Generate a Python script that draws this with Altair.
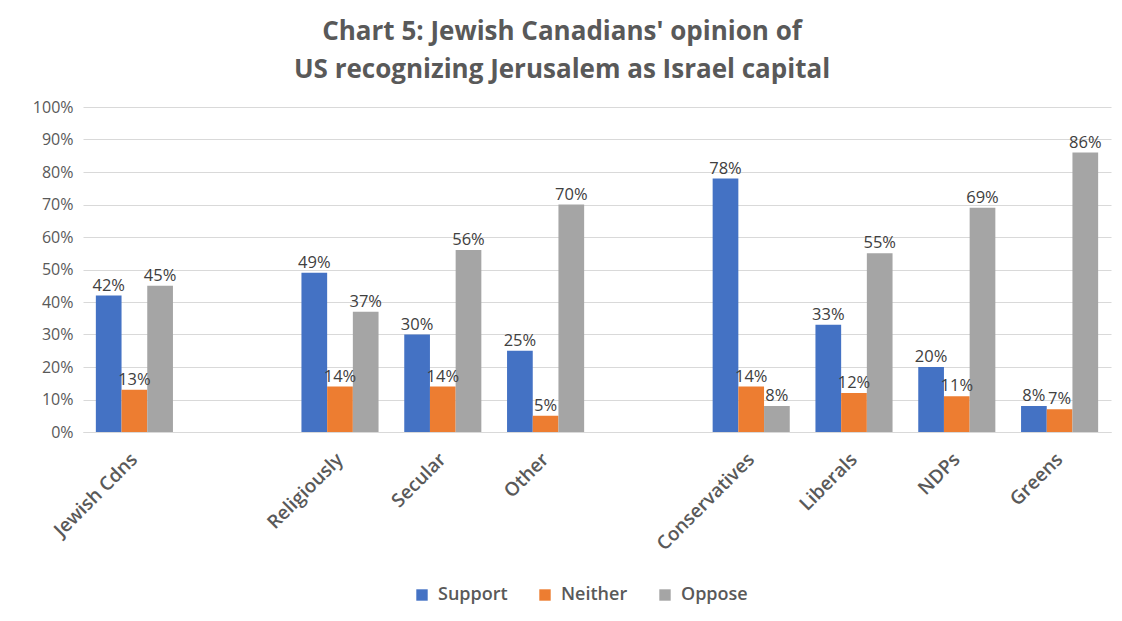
import altair as alt
import pandas as pd

categories = ["Jewish Cdns", " ", "Religiously", "Secular", "Other", "  ",
              "Conservatives", "Liberals", "NDPs", "Greens"]
groups = ["Jewish Cdns", "Religiously", "Secular", "Other",
          "Conservatives", "Liberals", "NDPs", "Greens"]
series = ["Support", "Neither", "Oppose"]
support = [42, 49, 30, 25, 78, 33, 20, 8]
neither = [13, 14, 14, 5, 14, 12, 11, 7]
oppose = [45, 37, 56, 70, 8, 55, 69, 86]
colors = ["#4472C4", "#ED7D31", "#A5A5A5"]

rows = []
for name, vals in zip(series, [support, neither, oppose]):
    for g, v in zip(groups, vals):
        rows.append({"group": g, "series": name, "value": v / 100})
df = pd.DataFrame(rows)

x = alt.X("group:N", scale=alt.Scale(domain=categories, paddingInner=0.25, paddingOuter=0.125),
          axis=alt.Axis(title=None, labelAngle=-45, labelFontSize=19, labelColor="#595959",
                        labelFont="Open Sans", labelFontWeight=600, domainColor="#D9D9D9",
                        ticks=False, grid=False, labelPadding=24, labelAlign="right",
                        labelBaseline="middle"))
xo = alt.XOffset("series:N", scale=alt.Scale(domain=series, paddingInner=0, paddingOuter=0))
y = alt.Y("value:Q", scale=alt.Scale(domain=[0, 1]),
          axis=alt.Axis(title=None, format=".0%", values=[i / 10 for i in range(11)],
                        labelFontSize=16, labelColor="#595959", labelFont="Open Sans",
                        gridColor="#D9D9D9", domain=False, ticks=False, labelPadding=10))

bars = alt.Chart(df).mark_bar().encode(
    x=x, xOffset=xo, y=y,
    color=alt.Color("series:N", scale=alt.Scale(domain=series, range=colors),
                    legend=alt.Legend(title=None, orient="none", legendX=330, legendY=479,
                                      direction="horizontal", symbolType="square",
                                      symbolSize=130, symbolStrokeWidth=0, labelFontSize=18,
                                      labelFontWeight=600, labelColor="#595959",
                                      labelFont="Open Sans", columnPadding=28,
                                      symbolOffset=0, labelOffset=7)),
)
labels = alt.Chart(df).mark_text(dy=-10, fontSize=16.5, color="#404040", font="Open Sans").encode(
    x=x, xOffset=xo, y=y, text=alt.Text("value:Q", format=".0%"),
)

chart = alt.layer(bars, labels).properties(
    width=1028, height=325,
    autosize=alt.AutoSizeParams(type="none"),
    padding={"left": 75, "top": 99, "right": 1, "bottom": 185},
    background="white",
    title=alt.TitleParams(
        ["Chart 5: Jewish Canadians' opinion of", "US recognizing Jerusalem as Israel capital"],
        fontSize=26, font="Open Sans", fontWeight="bold", color="#595959",
        anchor="middle", dx=-35, offset=16, lineHeight=38,
    ),
).configure_view(stroke="transparent", strokeWidth=0)

chart.save("out.html", embed_options={"renderer": "svg", "actions": False})
